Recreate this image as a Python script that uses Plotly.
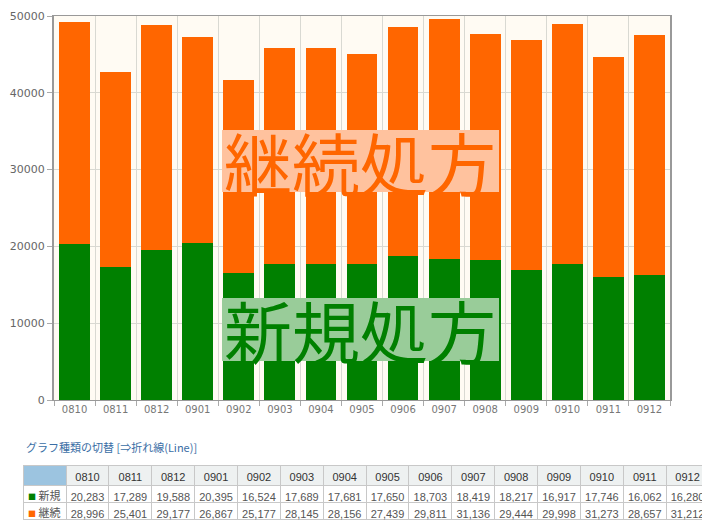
import plotly.graph_objects as go

months = ["0810", "0811", "0812", "0901", "0902", "0903", "0904", "0905",
          "0906", "0907", "0908", "0909", "0910", "0911", "0912"]
new_rx = [20283, 17289, 19588, 20395, 16524, 17689, 17681, 17650,
          18703, 18419, 18217, 16917, 17746, 16062, 16280]
cont_rx = [28996, 25401, 29177, 26867, 25177, 28145, 28156, 27439,
           29811, 31136, 29444, 29998, 31273, 28657, 31212]
series_names = ["新規", "継続"]
overlay_labels = ["継続処方", "新規処方"]
link_text = "グラフ種類の切替 [⇒折れ線(Line)]"
y_ticks = [0, 10000, 20000, 30000, 40000, 50000]

GREEN = "#008000"
ORANGE = "#ff6600"
W, H = 710, 522
OFF = 8  # page body margin in the browser
JP = "Noto Sans CJK JP"


def px(x):
    return (x - OFF) / W


def py(y):
    return 1 - (y - OFF) / H


fig = go.Figure()
fig.add_trace(go.Bar(x=months, y=new_rx, name=series_names[0],
                     marker=dict(color=GREEN, line=dict(width=0)),
                     xaxis="x", yaxis="y"))
fig.add_trace(go.Bar(x=months, y=cont_rx, name=series_names[1],
                     marker=dict(color=ORANGE, line=dict(width=0)),
                     xaxis="x", yaxis="y"))

# data table below the chart (row labels drawn as annotations)
fmt = lambda v: f"{v:,}"
header_vals = [""] + months
cell_vals = [["", ""]]
for a, b in zip(new_rx, cont_rx):
    cell_vals.append([fmt(a), fmt(b)])

TABLE_TOP = 465
HEAD_H, CELL_H = 20, 17
fig.add_trace(go.Table(
    domain=dict(x=[px(23), px(709)], y=[0, py(TABLE_TOP)]),
    columnwidth=[43] + [42.8] * 15,
    header=dict(values=header_vals,
                fill=dict(color=["#9cc4e0"] + ["#eef1f1"] * 15),
                line=dict(color="#c8c8c8", width=1),
                font=dict(family="Liberation Sans", size=11, color="#333333"),
                align="center", height=HEAD_H),
    cells=dict(values=cell_vals,
               fill=dict(color="white"),
               line=dict(color="#c8c8c8", width=1),
               font=dict(family="Liberation Sans", size=11, color="#555555"),
               align=["left"] + ["center"] * 15, height=CELL_H),
))

annotations = [
    dict(text=overlay_labels[0], xref="paper", yref="paper",
         x=px(360), y=py(161), xanchor="center", yanchor="middle",
         showarrow=False, font=dict(family=JP, size=68, color=ORANGE)),
    dict(text=overlay_labels[1], xref="paper", yref="paper",
         x=px(360), y=py(329), xanchor="center", yanchor="middle",
         showarrow=False, font=dict(family=JP, size=68, color=GREEN)),
    dict(text=link_text, xref="paper", yref="paper",
         x=px(24), y=py(447), xanchor="left", yanchor="middle",
         showarrow=False, font=dict(family=JP, size=11, color="#3a6ea5")),
]
# row headers of the table: coloured square + series name
for i, (name, col) in enumerate(zip(series_names, [GREEN, ORANGE])):
    yc = TABLE_TOP + HEAD_H + CELL_H * i + CELL_H / 2 + 1
    annotations.append(dict(
        text=f"<span style='color:{col};font-size:8px'>■</span> {name}",
        xref="paper", yref="paper", x=px(26), y=py(yc),
        xanchor="left", yanchor="middle", showarrow=False,
        font=dict(family=JP, size=11, color="#555555")))

shapes = [
    dict(type="rect", xref="paper", yref="paper", layer="above",
         x0=px(222), x1=px(499), y0=py(130), y1=py(192),
         fillcolor="#ffc29e", line=dict(width=0)),
    dict(type="rect", xref="paper", yref="paper", layer="above",
         x0=px(222), x1=px(499), y0=py(298), y1=py(361),
         fillcolor="#99cc99", line=dict(width=0)),
]

fig.update_layout(
    width=W, height=H,
    margin=dict(l=0, r=0, t=0, b=0),
    paper_bgcolor="white",
    plot_bgcolor="#fffbf3",
    barmode="stack",
    bargap=0.25,
    showlegend=False,
    font=dict(family="DejaVu Sans", size=11, color="#666666"),
    xaxis=dict(domain=[px(54), px(670)], type="category", automargin=False,
               tickson="boundaries", showgrid=True, gridcolor="#d9d9d2",
               gridwidth=1, ticks="outside", ticklen=5, tickcolor="#aaaaaa",
               showline=True, linecolor="#999999", linewidth=1, mirror=True,
               tickfont=dict(family="DejaVu Sans", size=10, color="#777777")),
    yaxis=dict(domain=[py(400), py(16)], range=[0, 50000], automargin=False,
               tickvals=y_ticks, tickformat="d",
               showgrid=True, gridcolor="#d9d9d2", gridwidth=1,
               ticks="outside", ticklen=5, tickcolor="#aaaaaa",
               showline=True, linecolor="#999999", linewidth=2, mirror=True,
               zeroline=False,
               tickfont=dict(family="DejaVu Sans", size=11, color="#666666")),
    annotations=annotations,
    shapes=shapes,
)

fig.write_html("out.html")
